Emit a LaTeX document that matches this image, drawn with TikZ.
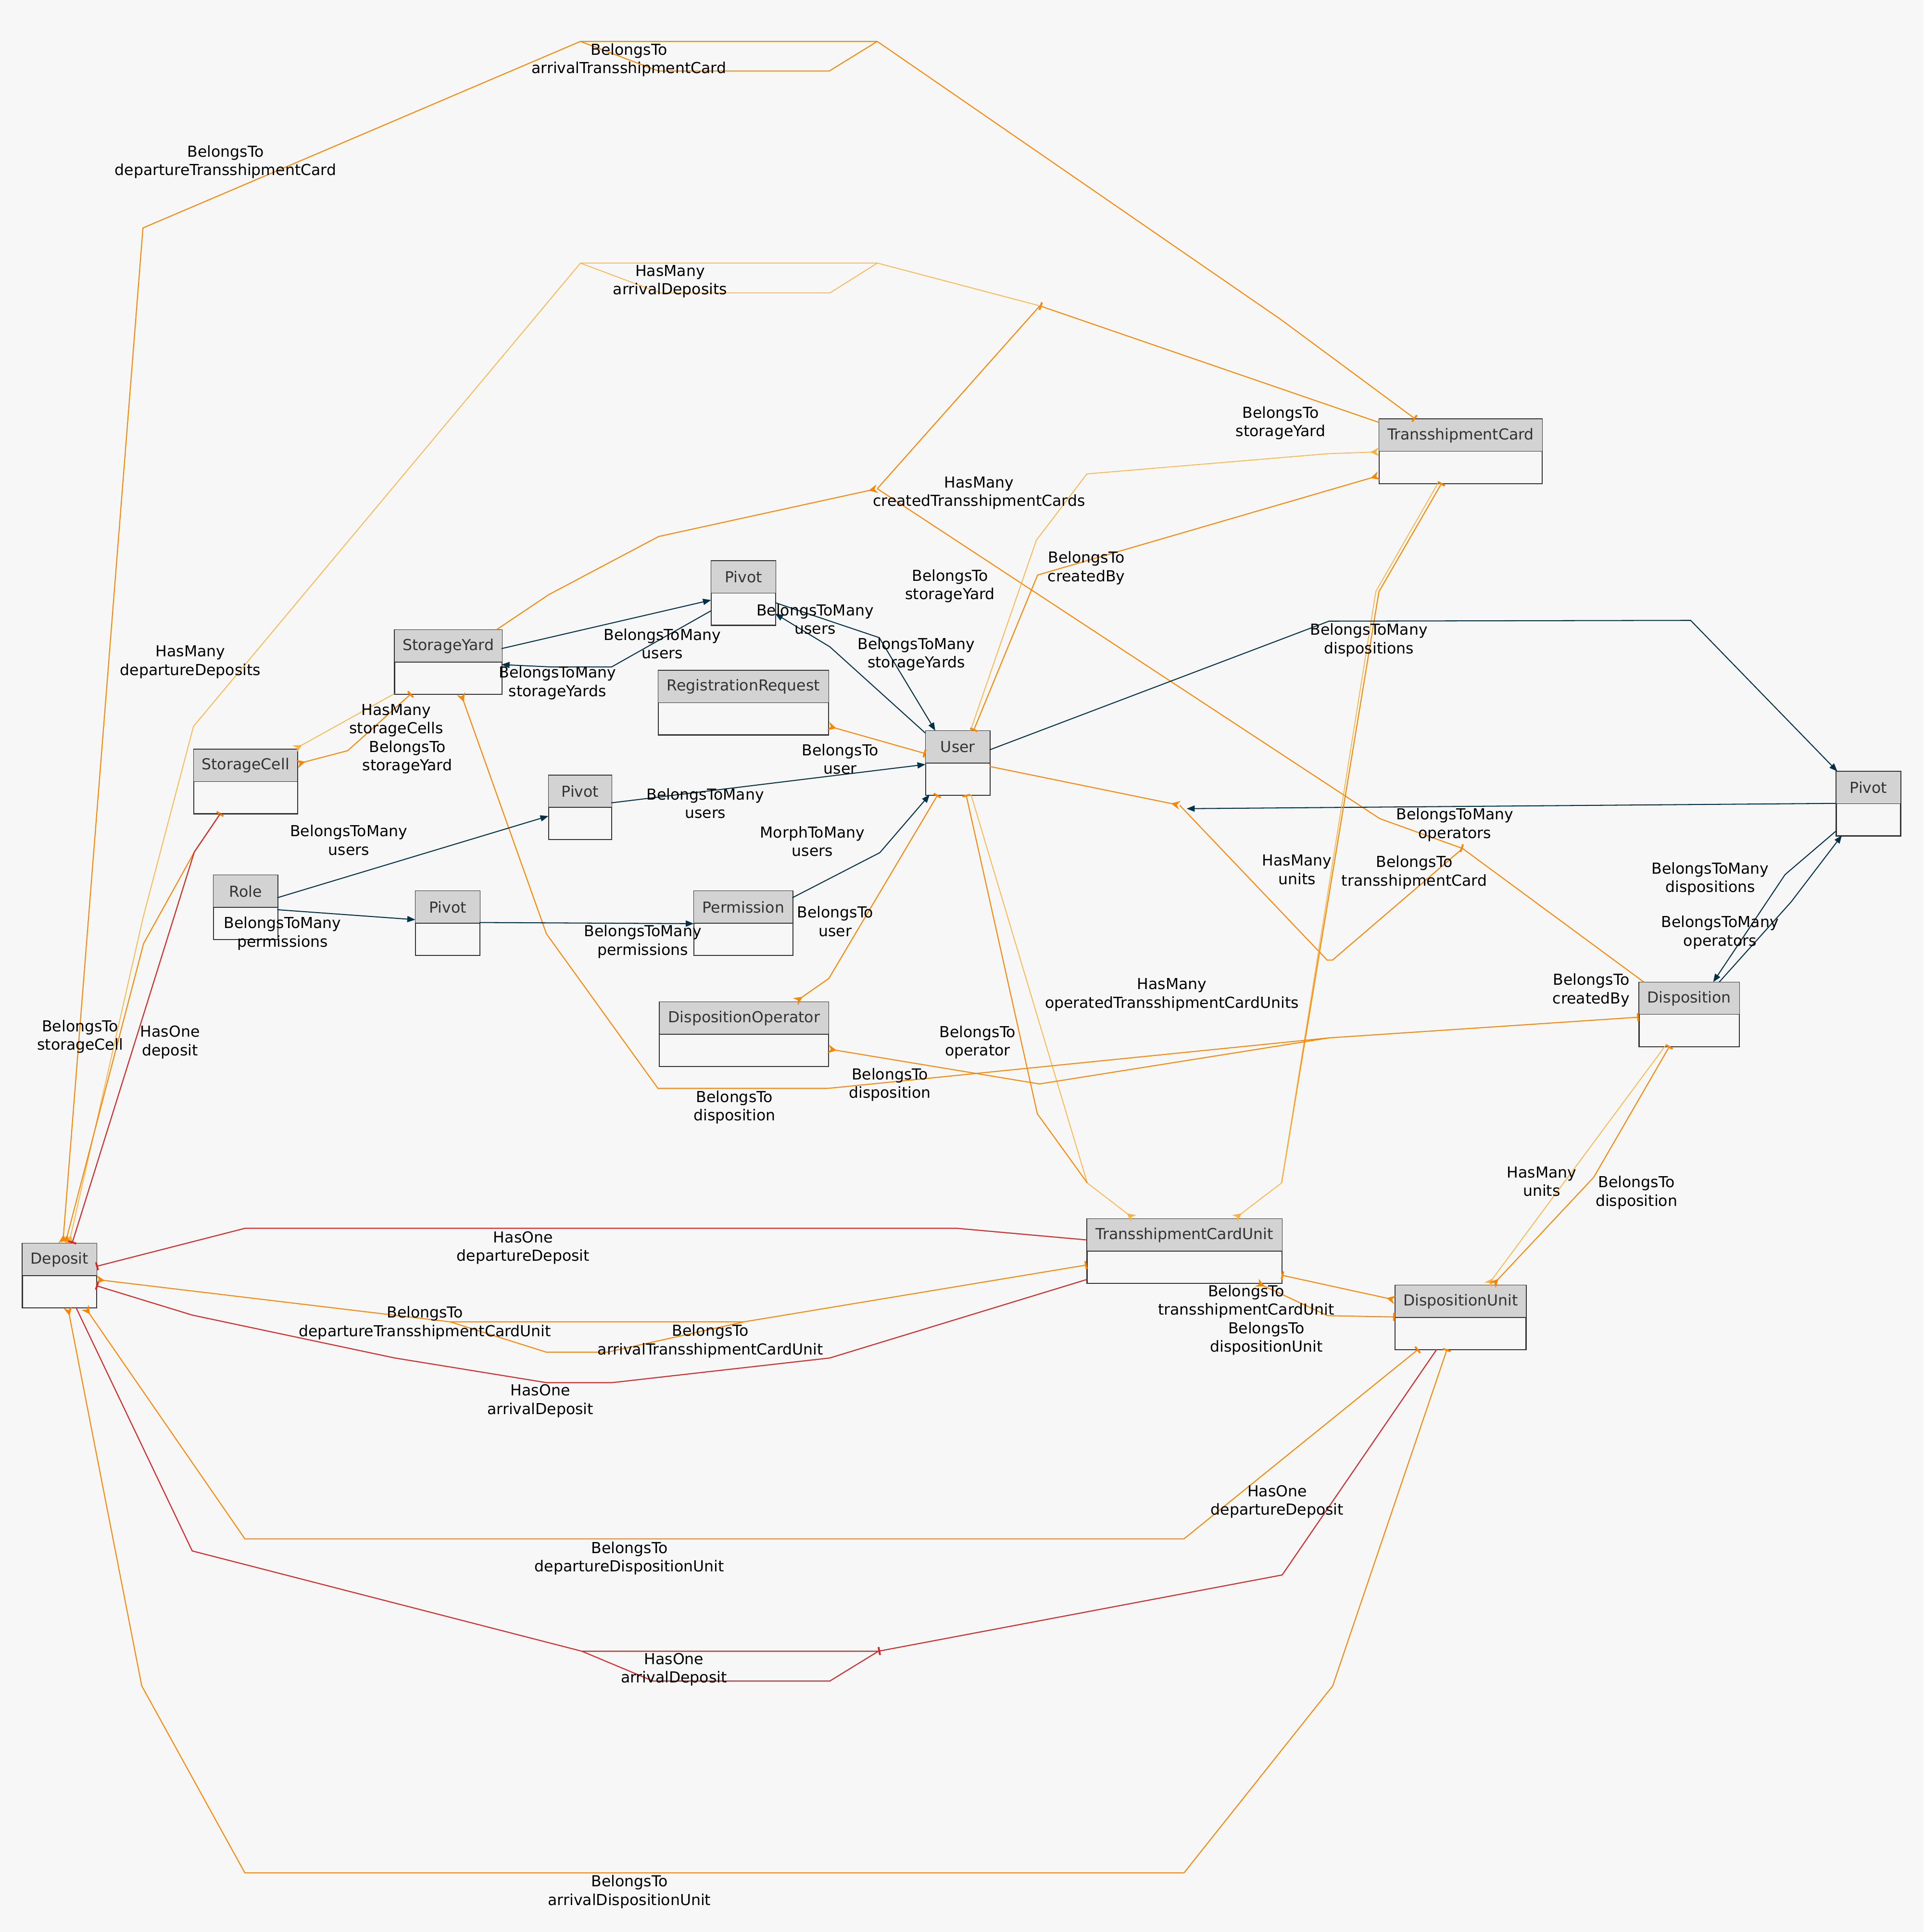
\documentclass[tikz,border=0pt]{standalone}
\usepackage{fontspec}
\setmainfont{DejaVu Sans}
\usetikzlibrary{arrows.meta,calc}

\definecolor{bgc}{HTML}{F7F7F7}
\definecolor{hdrc}{HTML}{D3D3D3}
\definecolor{txtc}{HTML}{333333}
\definecolor{navyc}{HTML}{023047}
\definecolor{orc}{HTML}{FB8500}
\definecolor{ambc}{HTML}{FFB13B}
\definecolor{redc}{HTML}{D62828}

\tikzset{
  ebox/.style={draw=black!80, fill=bgc, line width=0.6pt, inner sep=0pt,
    minimum height=52pt, anchor=north west},
  etext/.style={text=txtc, font=\fontsize{12.3}{15}\selectfont, inner sep=0pt},
  elabel/.style={font=\fontsize{12.3}{15}\selectfont, align=center, inner sep=0pt, text=black},
  oe/.style={draw=orc, line width=0.8pt},
  ae/.style={draw=ambc, line width=0.65pt},
  ne/.style={draw=navyc, line width=0.8pt},
  re/.style={draw=redc, line width=0.85pt},
  xcrow/.tip={Stealth[reversed,length=7pt,width=7pt,inset=2.3pt]},
  xtee/.tip={Bar[width=6.5pt,line width=1.5pt]},
  xnorm/.tip={Triangle[length=6.5pt,width=5pt]},
}

% entity box: name, x, y (top-left), width, title
\newcommand\mkentity[5]{%
  \node[ebox, minimum width=#4pt] (#1) at (#2,#3) {};
  \fill[hdrc] (#1.north west) rectangle (#1.east);
  \draw[draw=black!80, line width=0.6pt] (#1.west) -- (#1.east);
  \draw[draw=black!80, line width=0.6pt] (#1.north west) rectangle (#1.south east);
  \node[etext] (#1-t) at ([yshift=13pt]#1.center) {#5};
}

\begin{document}
\begin{tikzpicture}[x=1pt,y=-1pt]
\fill[bgc] (0,0) rectangle (1561,1568);
\useasboundingbox (0,0) rectangle (1561,1568);

% ---------- entities ----------
\mkentity{tc}{1119}{340}{132}{TransshipmentCard}
\mkentity{pva}{577}{455}{52}{Pivot}
\mkentity{sy}{320}{511}{87}{StorageYard}
\mkentity{rr}{534}{544}{138}{RegistrationRequest}
\mkentity{usr}{751}{593}{52}{User}
\mkentity{sc}{157}{608}{84}{StorageCell}
\mkentity{pvb}{445}{629}{51}{Pivot}
\mkentity{pvc}{1490}{626}{52}{Pivot}
\mkentity{role}{173}{710}{52}{Role}
\mkentity{pvd}{337}{723}{52}{Pivot}
\mkentity{perm}{563}{723}{80}{Permission}
\mkentity{dop}{535}{813}{137}{DispositionOperator}
\mkentity{disp}{1330}{797}{81}{Disposition}
\mkentity{tcu}{882}{989}{158}{TransshipmentCardUnit}
\mkentity{dep}{18}{1009}{60}{Deposit}
\mkentity{du}{1132}{1043}{106}{DispositionUnit}

% ---------- merge points of concentrated edges ----------
\coordinate (h1) at (843.8,248.2);
\coordinate (h2) at (711.9,396.6);
\coordinate (h3) at (957.3,653.5);
\coordinate (h3b) at (963,656.3);
\coordinate (h4) at (1186.9,688.6);
\coordinate (h5) at (471,33.6);
\coordinate (h6) at (711.9,33.6);
\coordinate (h7) at (471,213.5);
\coordinate (h8) at (712,213.5);
\coordinate (h9) at (1078.7,842.3);
\coordinate (h10) at (365.4,1072.8);
\coordinate (h11) at (603.6,1072.8);
\coordinate (h12) at (472.2,1340.1);
\coordinate (h13) at (712.8,1340.1);
\coordinate (h14) at (882.3,960);
\coordinate (h15) at (1040,960);

% ---------- Deposit / TransshipmentCard ----------
\draw[oe, xcrow-xtee] ($(dep.north west)+(33,0)$) -- (116,185) -- (h5) -- (h6)
  -- (1039,259) -- ($(tc.north west)+(29.5,0)$);
\draw[oe] (h5) -- (534.3,57.6) -- (673,57.6) -- (h6);
\draw[oe, -xtee] ($(tc.north west)+(0,2.8)$) -- (h1);
\draw[ae, -xcrow] (h1) -- (h8) -- (h7) -- (157,589.5) -- (116,745)
  -- ($(dep.north west)+(38,0)$);
\draw[ae] (h8) -- (673.5,237.7) -- (535.6,237.7) -- (h7);
\draw[oe] (h1) -- (h2);
\draw[oe, -xcrow] ($(sy.north west)+(83,0)$) -- (445.3,482.6) -- (534.5,435.4) -- (h2);
\draw[oe, -xtee] (h2) -- (1119.7,664.4) -- (h4);
\draw[oe] (h4) -- ($(disp.north west)+(4,0)$);
\draw[oe] (h3) -- (1077,779.2) -- (1081.3,779.2) -- (h4);
\draw[oe, -xcrow] ($(usr.north west)+(52,29)$) -- (h3);
\draw[ne, -xnorm] ($(pvc.north west)+(0,26)$) -- (h3b);

% ---------- User / TransshipmentCard ----------
\draw[ae, -xcrow] ($(usr.north west)+(36.5,0)$) -- (841,438.4) -- (882,384.6)
  -- (1077.5,368.2) -- ($(tc.north west)+(0,26.7)$);
\draw[oe, xtee-xcrow] ($(usr.north west)+(39,0)$) -- (842,466.7)
  -- ($(tc.north west)+(0,46)$);

% ---------- TransshipmentCard / TransshipmentCardUnit ----------
\draw[oe, xtee-] ($(tc.north west)+(51,52)$) -- (1119,480.2) -- (h15);
\draw[ae, -xcrow] ($(tc.north west)+(48,52)$) -- (1116.5,480) -- (h15)
  -- ($(tcu.north west)+(120,0)$);

% ---------- User / TransshipmentCardUnit ----------
\draw[ae, -xcrow] ($(usr.north west)+(37,52)$) -- (h14) -- ($(tcu.north west)+(38,0)$);
\draw[oe, xtee-] ($(usr.north west)+(33,52)$) -- (841.8,903.9) -- (h14);

% ---------- User / DispositionOperator / Disposition ----------
\draw[oe, xtee-xcrow] ($(usr.north west)+(10,52)$) -- (727,702.3) -- (672.6,794.1)
  -- ($(dop.north west)+(110.5,0)$);
\draw[oe, xcrow-xtee] ($(dop.north west)+(137,38.3)$) -- (843.5,879.7) -- (h9)
  -- ($(disp.north west)+(0,28.5)$);
\draw[oe, xcrow-] ($(sy.north west)+(54,52)$) -- (443.4,757.8) -- (533.9,883.3)
  -- (671.9,883.3) -- (h9);

% ---------- Disposition / DispositionUnit ----------
\draw[ae, -xcrow] ($(disp.north west)+(21.2,52)$) -- ($(du.north west)+(75.4,0)$);
\draw[oe, xtee-xcrow] ($(disp.north west)+(24.9,52)$) -- (1293.3,955.5)
  -- ($(du.north west)+(79.2,0)$);

% ---------- TransshipmentCardUnit / DispositionUnit ----------
\draw[oe, xtee-xcrow] ($(tcu.north west)+(158,45.9)$) -- ($(du.north west)+(0,12)$);
\draw[oe, xcrow-xtee] ($(tcu.north west)+(138,52)$) -- (1077.4,1067.8)
  -- ($(du.north west)+(0,25.8)$);

% ---------- Deposit / TransshipmentCardUnit ----------
\draw[re, -xtee] ($(tcu.north west)+(0,17.3)$) -- (776.9,996.9) -- (198.7,996.9)
  -- ($(dep.north west)+(60,18.8)$);
\draw[oe, xcrow-xtee] ($(dep.north west)+(60,29.4)$) -- (h10) -- (h11)
  -- ($(tcu.north west)+(0,37.6)$);
\draw[oe] (h10) -- (443.4,1097.4) -- (492.7,1097.4) -- (h11);
\draw[re, -xtee] ($(tcu.north west)+(0,49.4)$) -- (673.4,1102.1) -- (496.8,1122.1)
  -- (443.4,1122.1) -- (320.3,1102.1) -- (156,1067.3) -- ($(dep.north west)+(60,34.4)$);

% ---------- Deposit / DispositionUnit ----------
\draw[oe, xcrow-xtee] ($(dep.north west)+(51,52)$) -- (198.7,1248.9) -- (960.8,1248.9)
  -- ($(du.north west)+(19,52)$);
\draw[re, -xtee] ($(du.north west)+(34,52)$) -- (1040.5,1278.2) -- (h13);
\draw[re] (h13) -- (h12) -- (156,1258.7) -- ($(dep.north west)+(43.6,52)$);
\draw[re] (h13) -- (673.4,1364.3) -- (530,1364.3) -- (h12);
\draw[oe, xcrow-xtee] ($(dep.north west)+(37,52)$) -- (115,1368.2) -- (198.7,1520)
  -- (960.8,1520) -- (1081.5,1368.2) -- ($(du.north west)+(42.3,52)$);

% ---------- StorageCell / Deposit / StorageYard ----------
\draw[oe, xtee-xcrow] ($(sc.north west)+(22,52)$) -- (157.7,691.4) -- (116.5,765.8)
  -- ($(dep.north west)+(35,0)$);
\draw[re, -xtee] ($(sc.north west)+(22,52)$) -- (157.7,691.4) -- ($(dep.north west)+(40.5,0)$);
\draw[ae, -xcrow] ($(sy.north west)+(0,52)$) -- ($(sc.north west)+(82,0)$);
\draw[oe, xcrow-xtee] ($(sc.north west)+(84,12)$) -- (282.2,609.2)
  -- ($(sy.north west)+(13.7,52)$);

% ---------- pivots ----------
\draw[ne, -xnorm] ($(sy.north west)+(87,15.4)$) -- ($(pva.north west)+(0,32)$);
\draw[ne, -xnorm] ($(pva.north west)+(0,40.7)$) -- (496.3,541.3) -- (447.9,541.3)
  -- ($(sy.north west)+(87,28.4)$);
\draw[ne, -xnorm] ($(pva.north west)+(52,34.1)$) -- (713.5,517.5) -- ($(usr.north west)+(8,0)$);
\draw[ne, -xnorm] ($(usr.north west)+(0,2)$) -- (673.5,525) -- ($(pva.north west)+(52,43)$);
\draw[oe, xcrow-xtee] ($(rr.north west)+(138,45.2)$) -- ($(usr.north west)+(0,18.6)$);
\draw[ne, -xnorm] ($(pvb.north west)+(51,22.6)$) -- ($(usr.north west)+(0,27.4)$);
\draw[ne, -xnorm] ($(role.north west)+(52,18.6)$) -- ($(pvb.north west)+(0,33.3)$);
\draw[ne, -xnorm] ($(role.north west)+(52,28.3)$) -- ($(pvd.north west)+(0,23.4)$);
\draw[ne, -xnorm] ($(pvd.north west)+(52,25.7)$) -- ($(perm.north west)+(0,26.6)$);
\draw[ne, -xnorm] ($(perm.north west)+(80,5.6)$) -- (714,692) -- ($(usr.north west)+(3.4,52)$);
\draw[ne, -xnorm] ($(usr.north west)+(52,15.6)$) -- (1078.6,504.1) -- (1372,503.5)
  -- ($(pvc.north west)+(1,0)$);
\draw[ne, -xnorm] ($(pvc.north west)+(0,48.4)$) -- (1448.6,709.8) -- ($(disp.north west)+(60.3,0)$);
\draw[ne, -xnorm] ($(disp.north west)+(65.2,0)$) -- (1453.5,732) -- ($(pvc.north west)+(4.7,52)$);

% ---------- edge labels ----------
\node[elabel] (l1) at (510.4,48.6) {BelongsTo\\arrivalTransshipmentCard};
\node[elabel] (l2) at (183,131.5) {BelongsTo\\departureTransshipmentCard};
\node[elabel] (l3) at (543.8,228.5) {HasMany\\arrivalDeposits};
\node[elabel] (l4) at (1039.2,343.3) {BelongsTo\\storageYard};
\node[elabel] (l5) at (794.5,400.2) {HasMany\\createdTransshipmentCards};
\node[elabel] (l6) at (771,475.6) {BelongsTo\\storageYard};
\node[elabel] (l7) at (881.6,461) {BelongsTo\\createdBy};
\node[elabel] (l8) at (661.5,502.6) {BelongsToMany\\users};
\node[elabel] (l9) at (537.5,522.4) {BelongsToMany\\users};
\node[elabel] (l10) at (743.6,531) {BelongsToMany\\storageYards};
\node[elabel] (l11) at (452.4,554.3) {BelongsToMany\\storageYards};
\node[elabel] (l12) at (1110.9,519.5) {BelongsToMany\\dispositions};
\node[elabel] (l13) at (154.5,537.3) {HasMany\\departureDeposits};
\node[elabel] (l14) at (321.6,584.7) {HasMany\\storageCells};
\node[elabel] (l15) at (330.5,614.6) {BelongsTo\\storageYard};
\node[elabel] (l16) at (681.8,616) {BelongsTo\\user};
\node[elabel] (l17) at (572.4,652.1) {BelongsToMany\\users};
\node[elabel] (l18) at (283,681.8) {BelongsToMany\\users};
\node[elabel] (l19) at (659.3,682.9) {MorphToMany\\users};
\node[elabel] (l20) at (1180.6,669.3) {BelongsToMany\\operators};
\node[elabel] (l21) at (1052.5,705.8) {HasMany\\units};
\node[elabel] (l22) at (1147.7,708) {BelongsTo\\transshipmentCard};
\node[elabel] (l23) at (1387.9,713.2) {BelongsToMany\\dispositions};
\node[elabel] (l24) at (1395.8,756.8) {BelongsToMany\\operators};
\node[elabel] (l25) at (229.3,757.5) {BelongsToMany\\permissions};
\node[elabel] (l26) at (521.7,764.2) {BelongsToMany\\permissions};
\node[elabel] (l27) at (677.8,747.8) {BelongsTo\\user};
\node[elabel] (l28) at (951,807.4) {HasMany\\operatedTransshipmentCardUnits};
\node[elabel] (l29) at (793.3,846) {BelongsTo\\operator};
\node[elabel] (l30) at (1291.3,803.7) {BelongsTo\\createdBy};
\node[elabel] (l31) at (65,841.2) {BelongsTo\\storageCell};
\node[elabel] (l32) at (138,845.9) {HasOne\\deposit};
\node[elabel] (l33) at (722.1,880.4) {BelongsTo\\disposition};
\node[elabel] (l34) at (596,898.6) {BelongsTo\\disposition};
\node[elabel] (l35) at (1251.1,958.9) {HasMany\\units};
\node[elabel] (l36) at (1328,967.9) {BelongsTo\\disposition};
\node[elabel] (l37) at (424.5,1012.6) {HasOne\\departureDeposit};
\node[elabel] (l38) at (344.9,1073.6) {BelongsTo\\departureTransshipmentCardUnit};
\node[elabel] (l39) at (576.5,1088.5) {BelongsTo\\arrivalTransshipmentCardUnit};
\node[elabel] (l40) at (1011.3,1056.3) {BelongsTo\\transshipmentCardUnit};
\node[elabel] (l41) at (1027.7,1086.4) {BelongsTo\\dispositionUnit};
\node[elabel] (l42) at (438.5,1137) {HasOne\\arrivalDeposit};
\node[elabel] (l43) at (1036.4,1218.8) {HasOne\\departureDeposit};
\node[elabel] (l44) at (510.8,1264.6) {BelongsTo\\departureDispositionUnit};
\node[elabel] (l45) at (546.9,1355) {HasOne\\arrivalDeposit};
\node[elabel] (l46) at (510.8,1535.3) {BelongsTo\\arrivalDispositionUnit};
\end{tikzpicture}
\end{document}
